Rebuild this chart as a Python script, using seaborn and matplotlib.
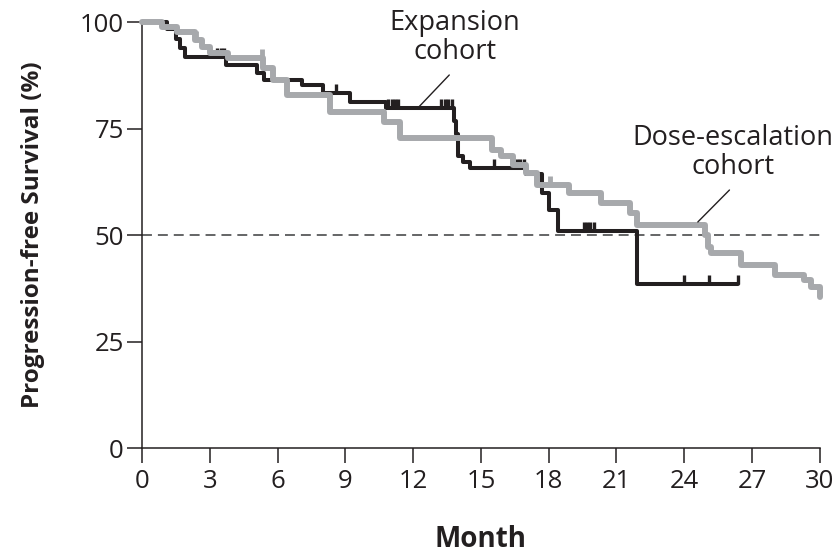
import numpy as np
import pandas as pd
import matplotlib
matplotlib.use("Agg")
import matplotlib.pyplot as plt
import seaborn as sns
from matplotlib.path import Path

# ---- data ----
exp_month = [0, 1.1, 1.5, 1.7, 1.9, 3.7, 5.1, 5.4, 7.1, 8.0, 9.2, 10.8, 13.8, 13.9,
             14.0, 14.2, 14.5, 17.0, 17.7, 18.0, 18.4, 21.9, 26.4]
exp_pfs = [100, 98.5, 96.0, 94.0, 91.8, 89.9, 88.0, 86.4, 85.2, 83.3, 81.2, 79.8, 76.8, 73.7,
           68.5, 67.1, 65.7, 64.3, 60.0, 56.0, 50.9, 38.6, 38.6]
exp_censor = [3.3, 3.5, 3.65, 8.6, 10.9, 11.05, 11.2, 11.35, 13.25, 13.4, 13.55, 13.7,
              15.6, 16.6, 16.75, 16.9, 17.0, 19.55, 19.7, 19.85, 20.0, 24.0, 25.1, 26.4]

dose_month = [0, 0.9, 1.55, 2.35, 2.65, 3.0, 3.8, 5.35, 5.8, 6.4, 8.3, 10.7, 11.4, 15.5,
              15.9, 16.4, 17.0, 17.5, 18.9, 20.3, 21.6, 21.9, 24.9, 25.05, 25.2, 26.5,
              28.0, 29.3, 29.6, 30.0]
dose_pfs = [100, 98.8, 97.7, 95.8, 94.1, 92.7, 91.5, 89.2, 86.4, 82.9, 78.9, 76.5, 72.8, 70.0,
            68.5, 66.4, 64.6, 61.7, 59.9, 57.5, 55.2, 52.3, 50.0, 47.2, 45.8, 43.0,
            40.6, 39.4, 37.8, 35.4]
dose_censor = [2.4, 5.3, 18.05]

x_ticks = [0, 3, 6, 9, 12, 15, 18, 21, 24, 27, 30]
y_ticks = [0, 25, 50, 75, 100]

BLACK = "#231f20"
GRAY = "#a7a9ac"


def step_value(months, vals, t):
    idx = np.searchsorted(np.asarray(months), t, side="right") - 1
    return np.asarray(vals)[idx]


sns.set_theme(style="white")
plt.rcParams["font.family"] = ["Open Sans", "DejaVu Sans"]

fig = plt.figure(figsize=(8.4, 5.54), dpi=100)
ax = fig.add_axes([0.169, 0.191, 0.807, 0.769])

df_exp = pd.DataFrame({"Month": exp_month, "PFS": exp_pfs})
df_dose = pd.DataFrame({"Month": dose_month, "PFS": dose_pfs})

ax.axhline(50, color="#58595b", linestyle=(0, (5.5, 3.3)), linewidth=1.3, zorder=1)

sns.lineplot(data=df_exp, x="Month", y="PFS", drawstyle="steps-post", estimator=None,
             sort=False, color=BLACK, linewidth=2.9, ax=ax, zorder=3)
tick_marker = Path([(0, 0), (0, 1)])
ax.plot(exp_censor, step_value(exp_month, exp_pfs, exp_censor), linestyle="none",
        marker=tick_marker, markersize=13, markeredgewidth=2.4, color=BLACK,
        zorder=3, clip_on=False)

sns.lineplot(data=df_dose, x="Month", y="PFS", drawstyle="steps-post", estimator=None,
             sort=False, color=GRAY, linewidth=4.3, ax=ax, zorder=4)
ax.plot(dose_censor, step_value(dose_month, dose_pfs, dose_censor), linestyle="none",
        marker=tick_marker, markersize=13, markeredgewidth=3.5, color=GRAY,
        zorder=4, clip_on=False)

for ln in ax.lines:
    ln.set_clip_on(False)

# annotations
ax.text(13.85, 96.3, "Expansion\ncohort", ha="center", va="center", fontsize=19.5,
        color=BLACK, linespacing=1.05)
ax.plot([13.6, 12.2], [87.6, 79.8], color=BLACK, linewidth=1.0, zorder=5)
ax.text(26.15, 69.3, "Dose-escalation\ncohort", ha="center", va="center", fontsize=19.5,
        color=BLACK, linespacing=1.05)
ax.plot([26.0, 24.6], [60.6, 53.1], color=BLACK, linewidth=1.0, zorder=5)

ax.set_xlim(0, 30)
ax.set_ylim(0, 100)
ax.set_xticks(x_ticks)
ax.set_yticks(y_ticks)
ax.set_xticklabels([str(v) for v in x_ticks])
ax.set_yticklabels([str(v) for v in y_ticks])
ax.tick_params(axis="both", direction="out", length=11, width=1.1, color=BLACK,
               labelsize=18.5, labelcolor=BLACK, pad=2, bottom=True, left=True)
ax.tick_params(axis="x", pad=4)
for side in ["top", "right"]:
    ax.spines[side].set_visible(False)
for side in ["left", "bottom"]:
    ax.spines[side].set_color(BLACK)
    ax.spines[side].set_linewidth(1.1)

ax.set_xlabel("Month", fontsize=20, fontweight="bold", color=BLACK, labelpad=22)
ax.set_ylabel("Progression-free Survival (%)", fontsize=17.5, fontweight="bold",
              color=BLACK, labelpad=25)
ax.grid(False)

fig.savefig("out.png", dpi=100)
